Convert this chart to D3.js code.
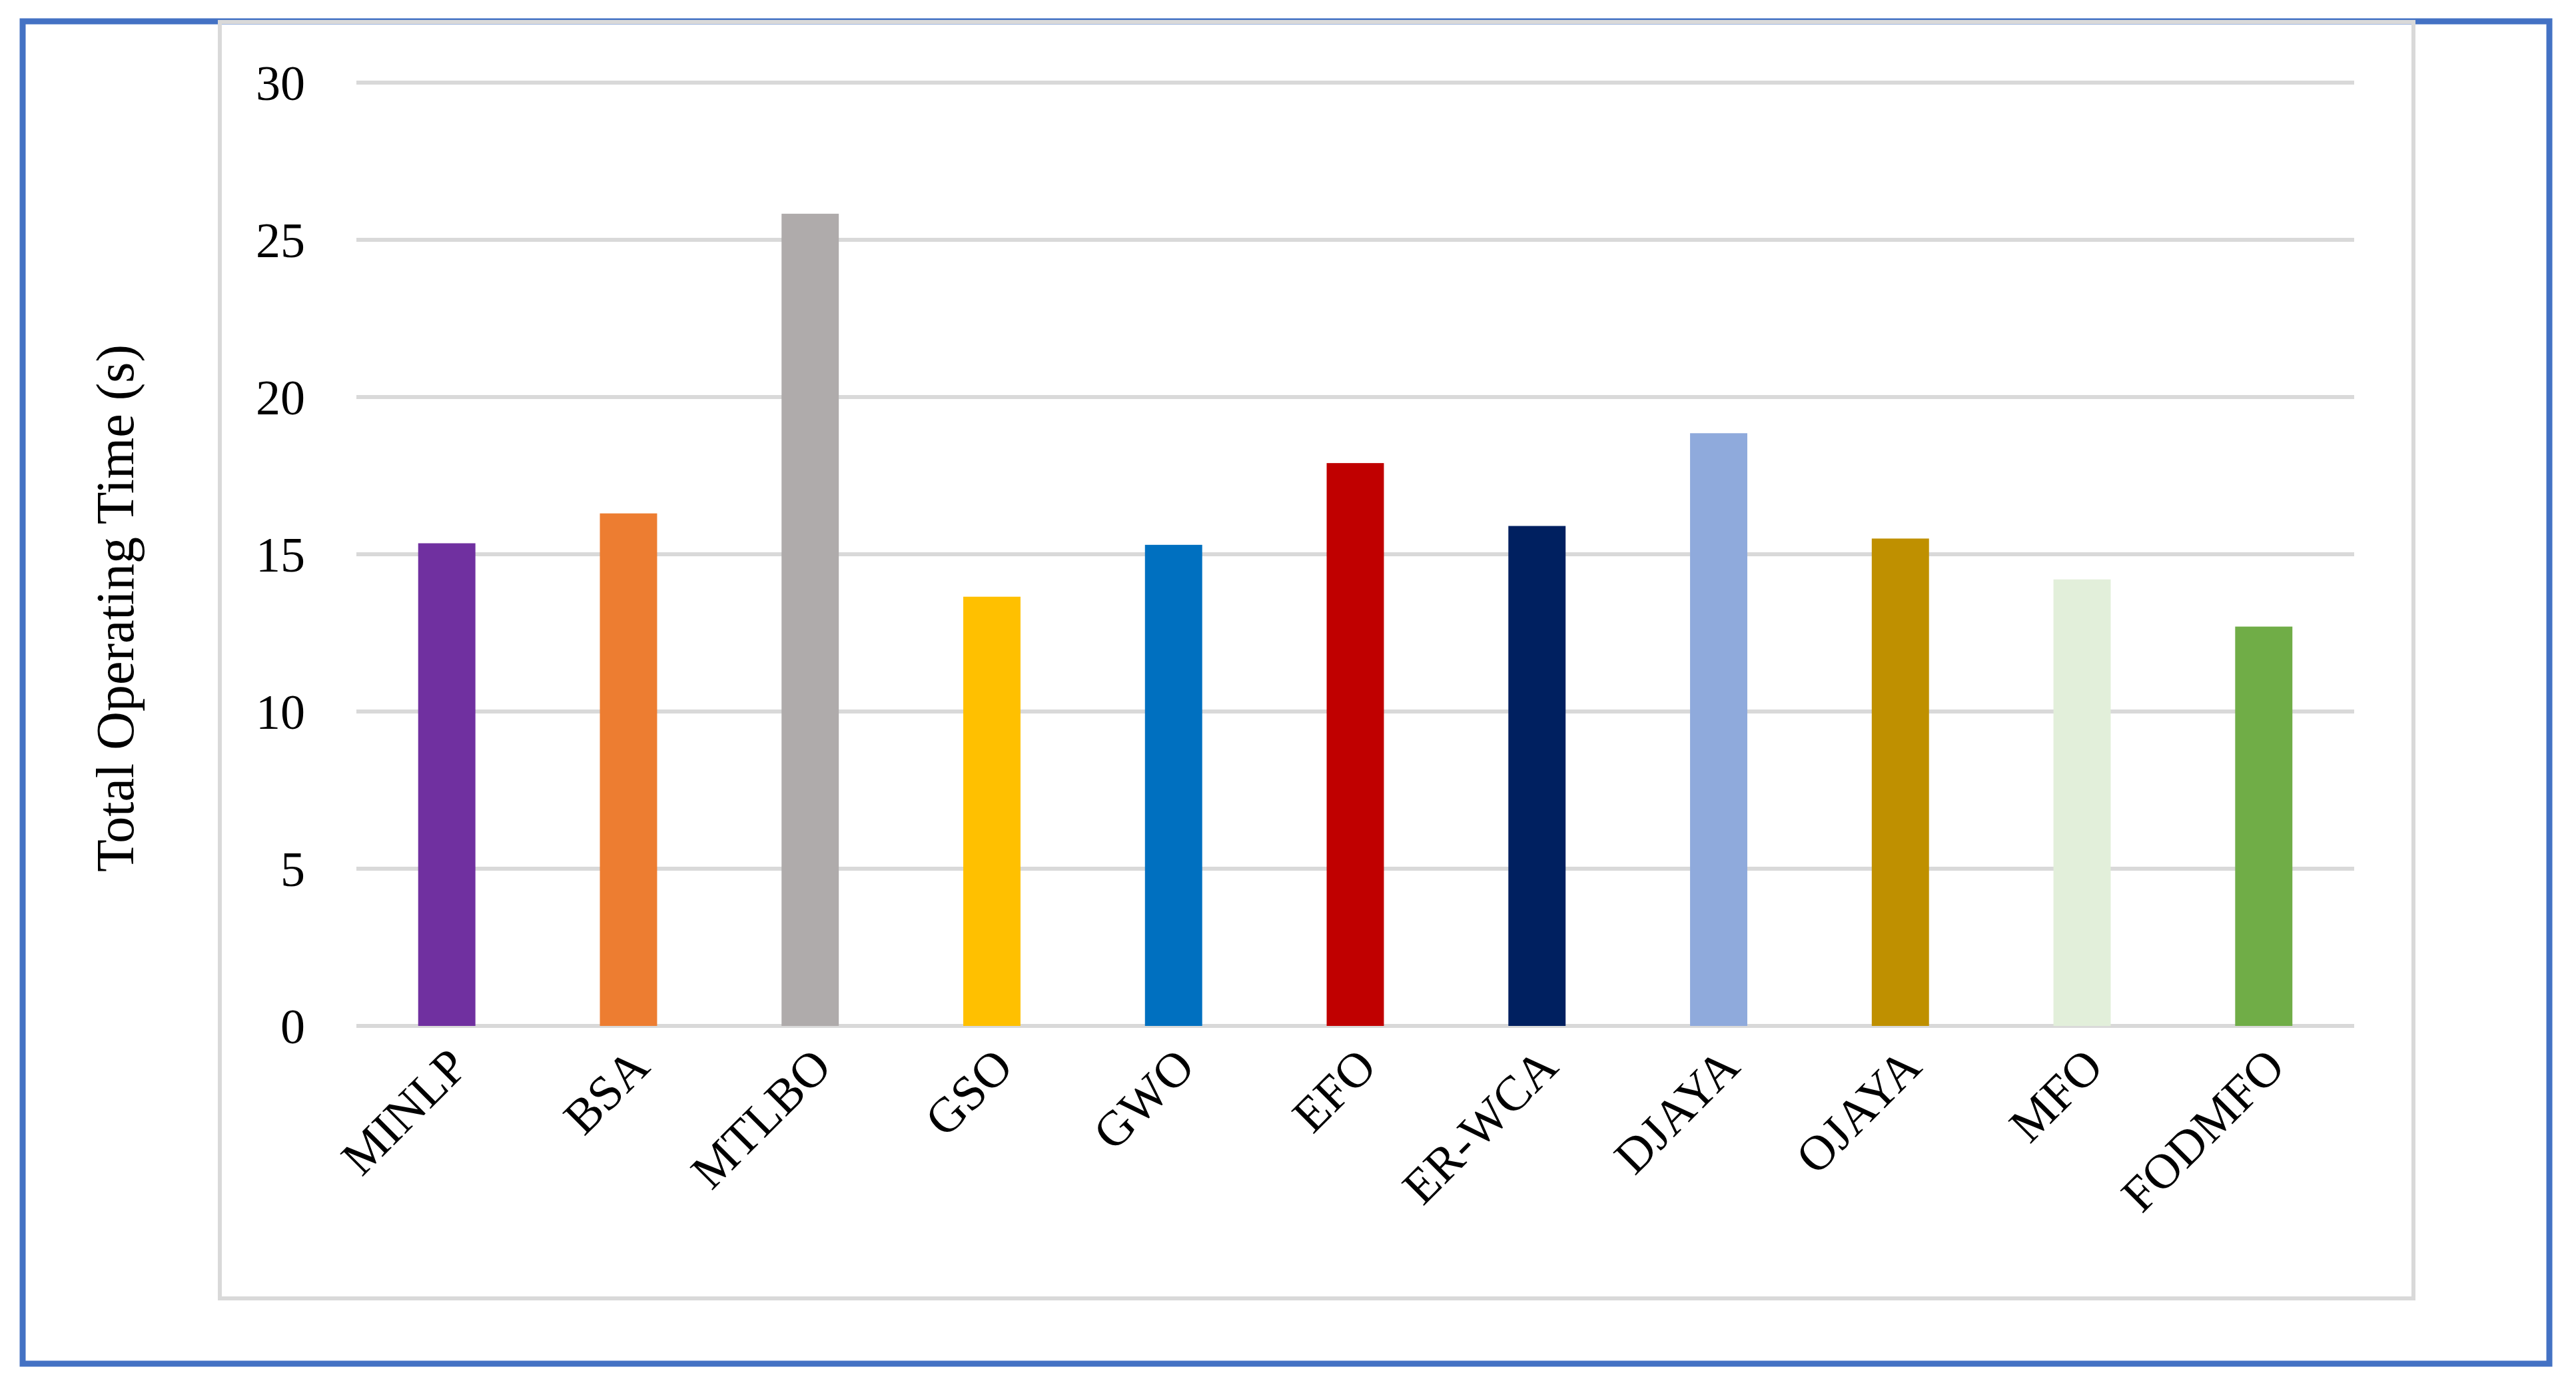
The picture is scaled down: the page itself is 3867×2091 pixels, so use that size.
<!DOCTYPE html><html><head><meta charset="utf-8"><script src="https://cdn.jsdelivr.net/npm/d3@7"></script>
<style>body{margin:0;background:#fff}</style></head><body><svg id="c" width="3867" height="2091"></svg>
<script>
const categories=["MINLP","BSA","MTLBO","GSO","GWO","EFO","ER-WCA","DJAYA","OJAYA","MFO","FODMFO"];
const values=[15.35,16.3,25.83,13.65,15.3,17.9,15.9,18.85,15.5,14.2,12.7];
const colors=["#7030A0","#ED7D31","#AFABAB","#FFC000","#0070C0","#C00000","#002060","#8FAADC","#BF9000","#E2EFDA","#70AD47"];
const yTicks=[0,5,10,15,20,25,30];
const svg=d3.select("#c");
svg.append("rect").attr("x",34).attr("y",32).attr("width",3793).attr("height",2015).attr("fill","none").attr("stroke","#4472C4").attr("stroke-width",9);
svg.append("rect").attr("x",330).attr("y",33).attr("width",3293).attr("height",1916).attr("fill","none").attr("stroke","#D9D9D9").attr("stroke-width",6);
const x=d3.scaleBand().domain(categories).range([535,3534]).paddingInner(0.685).paddingOuter(0.34);
const y=d3.scaleLinear().domain([0,30]).range([1540,124]);
const ff="Liberation Serif, Times New Roman, serif";
const g=svg.append("g");
g.selectAll("line.grid").data(yTicks).join("line").attr("x1",535).attr("x2",3534).attr("y1",d=>y(d)).attr("y2",d=>y(d)).attr("stroke","#D9D9D9").attr("stroke-width",6);
g.selectAll("text.yt").data(yTicks).join("text").attr("x",458).attr("y",d=>y(d)).attr("dy","0.35em").attr("text-anchor","end").attr("font-family",ff).attr("font-size",74).text(d=>d);
g.selectAll("rect.bar").data(categories).join("rect").attr("x",d=>x(d)).attr("width",x.bandwidth()).attr("y",(d,i)=>y(values[i])).attr("height",(d,i)=>y(0)-y(values[i])).attr("fill",(d,i)=>colors[i]);
g.selectAll("text.xl").data(categories).join("text").attr("text-anchor","end").attr("font-family",ff).attr("font-size",74)
 .attr("transform",d=>`translate(${x(d)+x.bandwidth()/2+35},${1605}) rotate(-45)`).text(d=>d);
svg.append("text").attr("transform","translate(200,913) rotate(-90)").attr("text-anchor","middle").attr("font-family",ff).attr("font-size",80).text("Total Operating Time (s)");
</script></body></html>
